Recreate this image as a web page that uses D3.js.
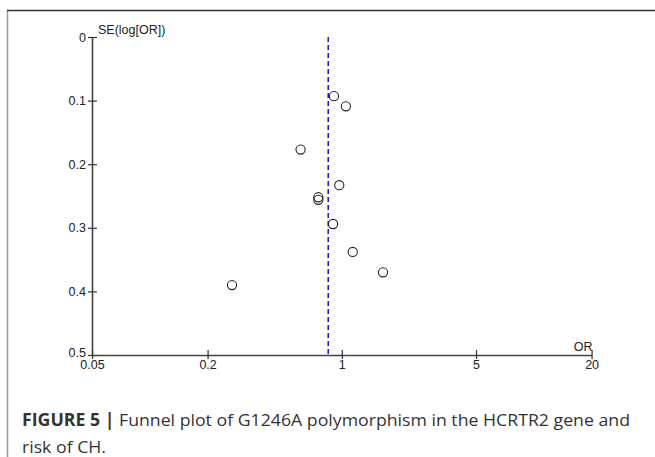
<!DOCTYPE html>
<html>
<head>
<meta charset="utf-8">
<script src="https://cdn.jsdelivr.net/npm/d3@7"></script>
<style>
body { margin: 0; background: #fff; }
svg { display: block; }
</style>
</head>
<body>
<div id="chart"></div>
<script>
// study estimates
var orValues = [0.91, 1.05, 0.61, 0.97, 0.755, 0.755, 0.90, 1.14, 1.64, 0.268];
var seValues = [0.093, 0.109, 0.177, 0.233, 0.252, 0.256, 0.294, 0.338, 0.370, 0.390];
var pooledOR = 0.85;
var xTicks = [0.05, 0.2, 1, 5, 20];
var yTicks = [0, 0.1, 0.2, 0.3, 0.4, 0.5];

var width = 655, height = 457;
var svg = d3.select("#chart").append("svg")
	.attr("width", width)
	.attr("height", height);

// figure frame (left + top rule)
svg.append("line")
	.attr("x1", 7.5).attr("x2", 7.5)
	.attr("y1", 10).attr("y2", height)
	.attr("stroke", "#999").attr("stroke-width", 1.5);
svg.append("line")
	.attr("x1", 7).attr("x2", width)
	.attr("y1", 10.5).attr("y2", 10.5)
	.attr("stroke", "#333").attr("stroke-width", 1.5);

var x = d3.scaleLog()
	.domain([0.05, 20])
	.range([92, 591.6]);
var y = d3.scaleLinear()
	.domain([0, 0.5])
	.range([37, 355]);

var tickFont = "Liberation Sans, Arial, sans-serif";

//y axis
var yAxis = svg.append("g")
	.attr("transform", "translate(" + x(0.05) + ",0)")
	.call(d3.axisLeft(y).tickValues(yTicks).tickFormat(function(d){return d;}).tickSize(4).tickSizeOuter(0));
yAxis.selectAll(".tick line").attr("x1", 5);
//x axis
var xAxis = svg.append("g")
	.attr("transform", "translate(0," + y(0.5) + ")")
	.call(d3.axisBottom(x).tickValues(xTicks).tickFormat(function(d){return d;}).tickSize(4).tickSizeOuter(0));
xAxis.selectAll(".tick line").attr("y1", -5);

svg.selectAll("g").attr("font-size", null).attr("font-family", null);
svg.selectAll(".domain").attr("stroke", "#444").attr("stroke-width", 1.6);
svg.selectAll(".tick line").attr("stroke", "#333").attr("stroke-width", 1.2);
svg.selectAll(".tick text")
	.attr("fill", "#222")
	.style("font-family", tickFont)
	.style("font-size", "12.5px");
yAxis.selectAll(".tick text").attr("x", -6);
xAxis.selectAll(".tick text").attr("y", 5);
// 0.5 label sits a bit above the corner
yAxis.selectAll(".tick text").filter(function(d){return d === 0.5;}).attr("dy", "0.1em");

svg.append("text")
	.attr("x", x(0.05) + 6)
	.attr("y", y(0) - 3)
	.style("font-family", tickFont)
	.style("font-size", "12.5px")
	.attr("fill", "#222")
	.text("SE(log[OR])");
svg.append("text")
	.attr("x", x(20) + 1)
	.attr("y", y(0.5) - 4)
	.attr("text-anchor", "end")
	.style("font-family", tickFont)
	.style("font-size", "12.5px")
	.attr("fill", "#222")
	.text("OR");

// pooled estimate
svg.append("line")
	.attr("x1", x(pooledOR)).attr("x2", x(pooledOR))
	.attr("y1", y(0)).attr("y2", y(0.5))
	.attr("stroke", "#1f1fd0")
	.attr("stroke-width", 1.6)
	.attr("stroke-dasharray", "5,3");

svg.selectAll(".study")
	.data(orValues)
	.enter().append("circle")
	.attr("class", "study")
	.attr("cx", function(d){return x(d);})
	.attr("cy", function(d, i){return y(seValues[i]);})
	.attr("r", 4.6)
	.attr("fill", "none")
	.attr("stroke", "#222")
	.attr("stroke-width", 1.1);

// caption
var cap = svg.append("text")
	.attr("x", 22)
	.attr("y", 426)
	.attr("textLength", 608)
	.attr("lengthAdjust", "spacingAndGlyphs")
	.style("font-family", "Open Sans, Liberation Sans, sans-serif")
	.style("font-size", "17px")
	.attr("fill", "#333");
cap.append("tspan").style("font-weight", "bold").text("FIGURE 5 | ");
cap.append("tspan").text("Funnel plot of G1246A polymorphism in the HCRTR2 gene and");
svg.append("text")
	.attr("x", 22)
	.attr("y", 453)
	.attr("textLength", 84)
	.attr("lengthAdjust", "spacingAndGlyphs")
	.style("font-family", "Open Sans, Liberation Sans, sans-serif")
	.style("font-size", "17px")
	.attr("fill", "#333")
	.text("risk of CH.");
</script>
</body>
</html>
